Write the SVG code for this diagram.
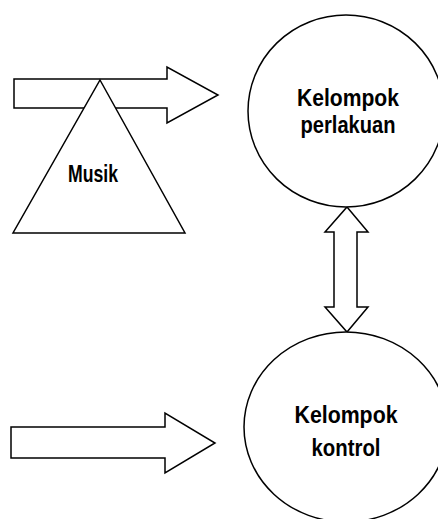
<svg xmlns="http://www.w3.org/2000/svg" width="438" height="519" viewBox="0 0 438 519">
  <style>
    .shape { fill: #fff; stroke: #000; stroke-width: 1.5; stroke-linejoin: miter; }
    .label { font-family: "Liberation Sans", Arial, sans-serif; font-weight: bold; font-size: 23px; fill: #000; text-anchor: middle; }
  </style>
  <rect width="438" height="519" fill="#fff"/>

  <g id="connectors">
    <!-- block arrow into the treatment group -->
    <polygon id="arrow-top" class="shape" points="14,79 167,79 167,67 218,95 167,123 167,108 14,108"/>
    <!-- two-way arrow between the groups -->
    <polygon id="arrow-both" class="shape" points="347,207 368,232 357,232 357,307 368,307 347,332 325,307 334,307 334,232 325,232"/>
    <!-- block arrow into the control group -->
    <polygon id="arrow-bottom" class="shape" points="11,427 165,427 165,413 215,443 165,473 165,458 11,458"/>
  </g>

  <g id="musik">
    <polygon class="shape" points="100,80 185,233 13,233"/>
    <text class="label" x="93" y="182" textLength="50" lengthAdjust="spacingAndGlyphs">Musik</text>
  </g>

  <g id="kelompok-perlakuan">
    <ellipse class="shape" cx="346" cy="111" rx="98" ry="96"/>
    <text class="label" x="348" y="106" textLength="102" lengthAdjust="spacingAndGlyphs">Kelompok</text>
    <text class="label" x="348" y="133" textLength="95" lengthAdjust="spacingAndGlyphs">perlakuan</text>
  </g>

  <g id="kelompok-kontrol">
    <ellipse class="shape" cx="346" cy="427" rx="102" ry="95"/>
    <text class="label" x="346" y="423" textLength="103" lengthAdjust="spacingAndGlyphs">Kelompok</text>
    <text class="label" x="346" y="456" textLength="69" lengthAdjust="spacingAndGlyphs">kontrol</text>
  </g>
</svg>
